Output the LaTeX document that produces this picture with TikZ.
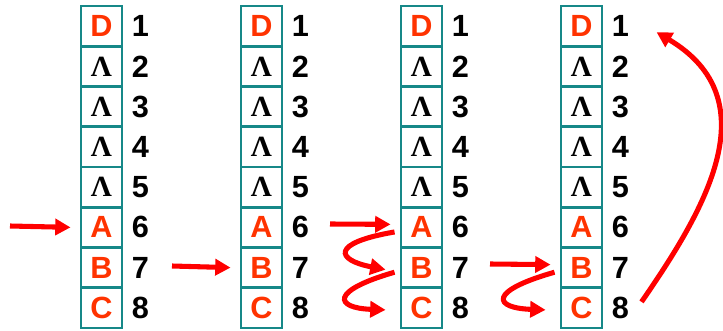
\documentclass[tikz,border=0pt]{standalone}
\usepackage{fontspec}
\setmainfont{Liberation Sans}
\newfontfamily\lamfont{Liberation Serif}
\usetikzlibrary{arrows.meta,calc}
\definecolor{tealbox}{HTML}{168888}
\definecolor{letred}{HTML}{FF3300}
\definecolor{arrred}{HTML}{FF0000}
\begin{document}
\begin{tikzpicture}[x=0.75pt,y=-0.75pt,
  cell/.style={draw=tealbox,line width=2.2pt,minimum width=30.75pt,minimum height=30.2pt,inner sep=0pt,fill=white},
  let/.style={text=letred,font=\fontsize{23}{23}\selectfont\bfseries},
  lam/.style={text=black,font=\fontsize{22}{22}\selectfont\lamfont\bfseries},
  num/.style={text=black,font=\fontsize{23}{23}\selectfont\bfseries},
  arr/.style={draw=arrred,line width=3.8pt,-{Triangle[length=11.5pt,width=12pt]}}]
\useasboundingbox (0,0) rectangle (723,331);
\foreach \c/\x in {1/101.5,2/261.5,3/421.5,4/581.5}{
  \foreach \r/\t/\s in {1/D/let,2/Λ/lam,3/Λ/lam,4/Λ/lam,5/Λ/lam,6/A/let,7/B/let,8/C/let}{
    \node[cell,\s] (c\c-\r) at (\x,{6+40.25*(\r-0.5)}) {\t};
    \node[num] (n\c-\r) at (\x+39,{6+40.25*(\r-0.5)}) {\r};
  }
}
% column 1
\coordinate (s1) at (10,226);
\draw[arr] (s1) -- ($(c1-6.west)+(-9,0)$);
% column 2
\coordinate (s2) at (172,266);
\draw[arr] (s2) -- ($(c2-7.west)+(-9,0)$);
% column 3
\coordinate (s3) at (330,224);
\draw[arr] (s3) -- ($(c3-6.west)+(-9,-3)$);
\draw[arr] ($(c3-6.south west)+(-5,-17)$) .. controls (330,243) and (336,260) .. ($(c3-7.west)+(-14,2)$);
\draw[arr] ($(c3-7.south west)+(-5,-17)$) .. controls (329,291) and (335,308) .. ($(c3-8.west)+(-14,2)$);
% column 4
\coordinate (s4) at (490,264);
\draw[arr] (s4) -- ($(c4-7.west)+(-9,-3)$);
\draw[arr] ($(c4-7.south west)+(-5,-17)$) .. controls (488,291) and (493,308) .. ($(c4-8.west)+(-14,2)$);
\draw[arr] ($(n4-8)+(21,-6)$) .. controls (705,210) and (770,100) .. ($(n4-1)+(36,6)$);
\end{tikzpicture}
\end{document}
